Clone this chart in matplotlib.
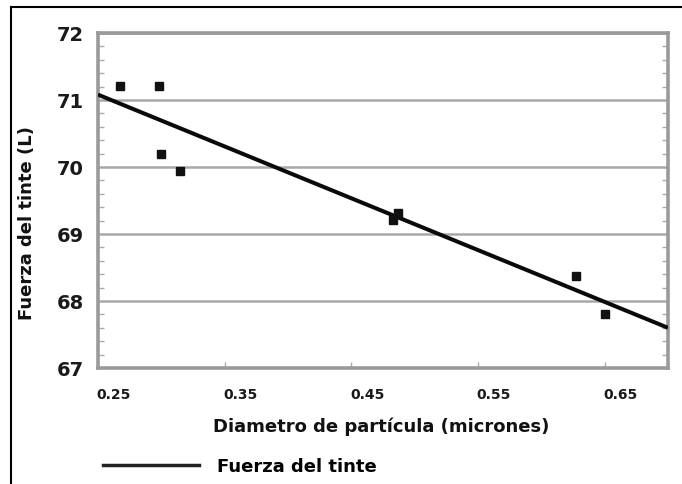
import matplotlib
matplotlib.use("Agg")
import matplotlib.pyplot as plt
import matplotlib.transforms as mtransforms
from matplotlib.lines import Line2D
from matplotlib.ticker import MultipleLocator

# data
diameter = [0.267, 0.298, 0.300, 0.315, 0.483, 0.487, 0.627, 0.650]
strength = [71.21, 71.21, 70.20, 69.94, 69.21, 69.31, 68.38, 67.81]
trend_x = [0.25, 0.70]
trend_y = [71.08, 67.60]
x_ticks = [0.25, 0.35, 0.45, 0.55, 0.65]
x_tick_labels = ["0.25", "0.35", "0.45", "0.55", "0.65"]
y_ticks = [67, 68, 69, 70, 71, 72]
y_tick_labels = ["67", "68", "69", "70", "71", "72"]

W, H = 682, 485
fig = plt.figure(figsize=(W / 100, H / 100), dpi=100)
fig.patch.set_facecolor("white")

ax = fig.add_axes([98 / W, 1 - 369 / H, (668 - 98) / W, (369 - 34) / H])
ax.set_xlim(0.25, 0.70)
ax.set_ylim(67, 72)

ax.grid(axis="y", color="#a8a8a8", linewidth=1.8)
ax.set_axisbelow(True)
for s in ax.spines.values():
    s.set_color("#9a9a9a")
    s.set_linewidth(2.6)

ax.plot(trend_x, trend_y, color="#0a0a0a", linewidth=2.9, solid_capstyle="butt",
        label="Fuerza del tinte", zorder=3)
ax.plot(diameter, strength, linestyle="none", marker="s", markersize=6.3,
        color="#111111", zorder=4)

ax.set_xticks(x_ticks)
ax.set_xticklabels(x_tick_labels, fontsize=10, fontweight="bold", color="#1a1a1a")
ax.set_yticks(y_ticks)
ax.set_yticklabels(y_tick_labels, fontsize=14, fontweight="bold", color="#1a1a1a")
ax.yaxis.set_minor_locator(MultipleLocator(0.2))
ax.tick_params(axis="x", direction="in", length=4, width=1, color="#aaaaaa", pad=14)
ax.tick_params(axis="y", which="major", direction="in", length=0, pad=10)
ax.tick_params(axis="y", which="minor", direction="in", length=4, width=1,
               color="#aaaaaa", left=True, right=True)

offset = mtransforms.ScaledTranslation(16 / 100, 0, fig.dpi_scale_trans)
for lab in ax.get_xticklabels():
    lab.set_transform(lab.get_transform() + offset)

fig.text(213 / W, 1 - 427 / H, "Diametro de partícula (micrones)",
         fontsize=13, fontweight="bold", ha="left", va="center", color="#111111")
fig.text(27 / W, 1 - 223 / H, "Fuerza del tinte (L)", rotation=90,
         fontsize=13, fontweight="bold", ha="center", va="center", color="#111111")

leg = fig.legend(handles=[Line2D([], [], color="#222222", linewidth=2.5)],
                 labels=["Fuerza del tinte"], loc="center left",
                 bbox_to_anchor=(103 / W, 1 - 467 / H), frameon=False,
                 handlelength=5.3, handletextpad=1.0, borderpad=0, borderaxespad=0,
                 prop={"size": 13, "weight": "bold"})

# outer frame (top and left edges visible in the reference)
fig.add_artist(Line2D([11 / W, 1], [1 - 8 / H, 1 - 8 / H], color="black", linewidth=1.5))
fig.add_artist(Line2D([11 / W, 11 / W], [0, 1 - 8 / H], color="black", linewidth=1.5))

fig.savefig("out.png", dpi=100)
